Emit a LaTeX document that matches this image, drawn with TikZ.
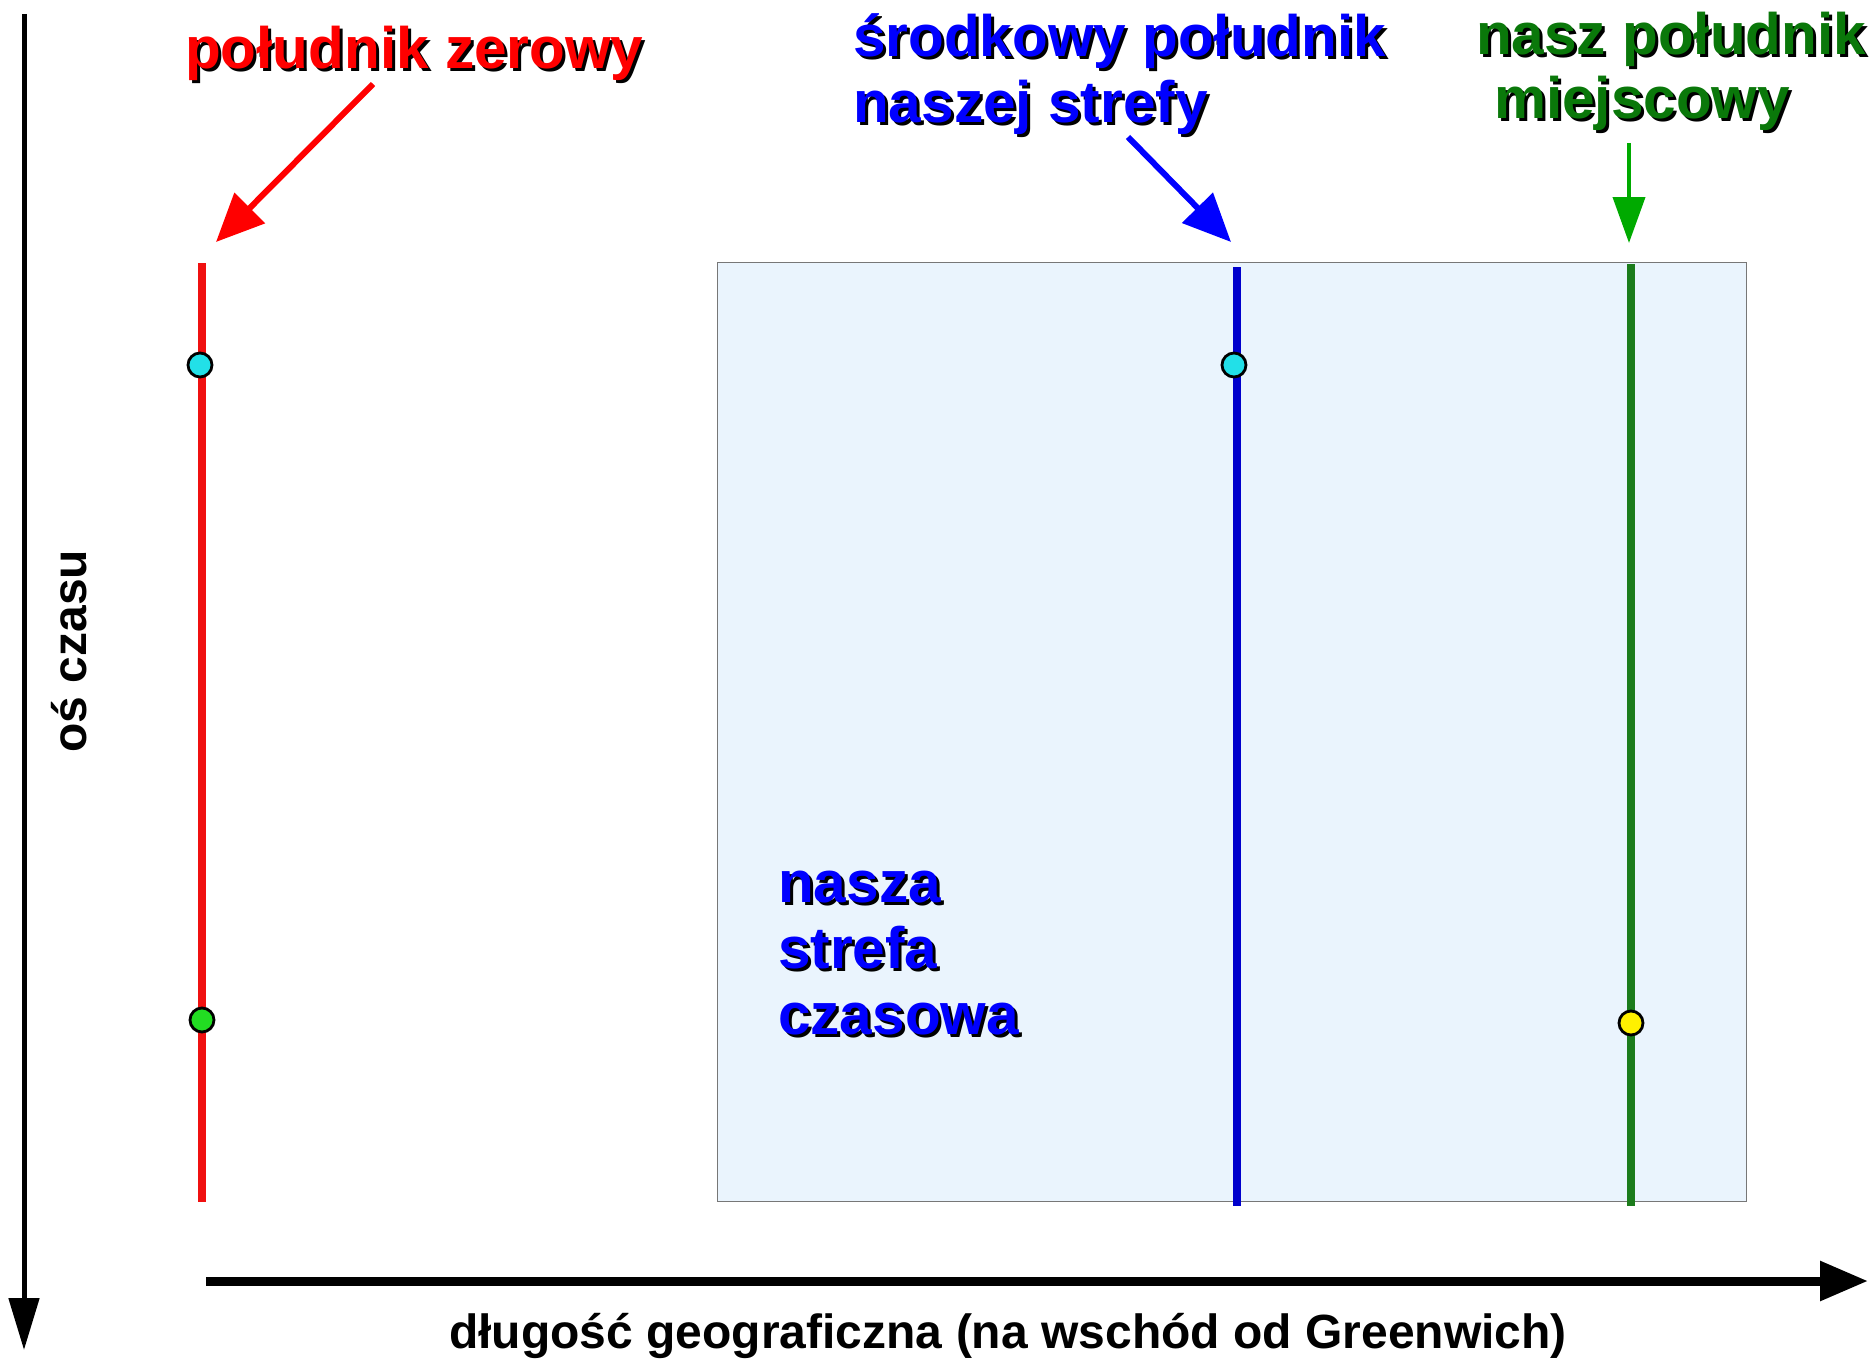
\documentclass[tikz,border=0pt]{standalone}
\usepackage{fontspec}
\setmainfont{Liberation Sans}
\usetikzlibrary{arrows.meta}
\definecolor{zonefill}{HTML}{EAF4FD}
\definecolor{zoneedge}{HTML}{777777}
\definecolor{redln}{HTML}{F01010}
\definecolor{blueln}{HTML}{0000CC}
\definecolor{greenln}{HTML}{1C7C1C}
\definecolor{greentx}{HTML}{0A780A}
\definecolor{greenar}{HTML}{00AA00}
\definecolor{dotcyan}{HTML}{22E0E8}
\definecolor{dotgreen}{HTML}{22DD22}
\definecolor{dotyellow}{HTML}{FFF000}
\newcommand\shd[2]{\rlap{\kern3pt\raisebox{-3pt}{\color{black}#2}}{\color{#1}#2}}
\tikzset{
  big/.style={font=\bfseries\fontsize{58.5}{66}\selectfont, inner sep=0pt},
  lab/.style={font=\bfseries\fontsize{48}{56}\selectfont, inner sep=0pt},
  dot/.style={circle, draw=black, line width=2.8pt, minimum size=24pt, inner sep=0pt},
  meridian/.style={line width=8.5pt},
  pointer/.style={line width=6pt, -{Triangle[length=48pt,width=42pt]}},
}
\begin{document}
\begin{tikzpicture}[x=1pt,y=-1pt]
\useasboundingbox (0,0) rectangle (1874,1362);
% axes
\coordinate (va0) at (24,14);
\coordinate (va1) at (24,1350);
\draw[line width=5pt, -{Triangle[length=52pt,width=30pt]}] (va0) -- (va1);
\coordinate (ha0) at (206,1281);
\coordinate (ha1) at (1868,1281);
\draw[line width=9pt, -{Triangle[length=48pt,width=38pt]}] (ha0) -- (ha1);
\node[lab, anchor=base] (hlab) at (1008,1348) {długość geograficzna (na wschód od Greenwich)};
\node[lab, anchor=base, rotate=90] (vlab) at (86,651) {oś czasu};
% zone
\node[draw=zoneedge, fill=zonefill, line width=1.2pt, minimum width=1029pt, minimum height=939pt, anchor=north west, inner sep=0pt] (zone) at (717,262) {};
\node[big, anchor=base west] (z1) at (778,902) {\shd{blue}{nasza}};
\node[big, anchor=base west] (z2) at (778,968) {\shd{blue}{strefa}};
\node[big, anchor=base west] (z3) at (778,1034) {\shd{blue}{czasowa}};
% meridians
\coordinate (r0) at (202,263); \coordinate (r1) at (202,1202);
\draw[meridian, redln] (r0) -- (r1);
\coordinate (b0) at (1237,267); \coordinate (b1) at (1237,1206);
\draw[meridian, blueln] (b0) -- (b1);
\coordinate (g0) at (1631,264); \coordinate (g1) at (1631,1206);
\draw[meridian, greenln] (g0) -- (g1);
% dots
\node[dot, fill=dotcyan] (d1) at (200,365) {};
\node[dot, fill=dotgreen] (d2) at (202,1020) {};
\node[dot, fill=dotcyan] (d3) at (1234,365) {};
\node[dot, fill=dotyellow] (d4) at (1631,1023) {};
% titles
\node[big, anchor=base west] (t1) at (185,69) {\shd{red}{południk zerowy}};
\node[big, anchor=base west] (t2) at (853,57) {\shd{blue}{środkowy południk}};
\node[big, anchor=base west] (t3) at (853,123) {\shd{blue}{naszej strefy}};
\node[big, anchor=base] (t4) at (1671,55) {\shd{greentx}{nasz południk}};
\node[big, anchor=base] (t5) at (1642,119) {\shd{greentx}{miejscowy}};
% pointers
\coordinate (pr0) at (373,84); \coordinate (pr1) at (216,242);
\draw[pointer, red] (pr0) -- (pr1);
\coordinate (pb0) at (1128,137); \coordinate (pb1) at (1231,242);
\draw[pointer, blue] (pb0) -- (pb1);
\coordinate (pg0) at (1629,143); \coordinate (pg1) at (1629,243);
\draw[line width=4pt, greenar, -{Triangle[length=46pt,width=32pt]}] (pg0) -- (pg1);
\end{tikzpicture}
\end{document}
